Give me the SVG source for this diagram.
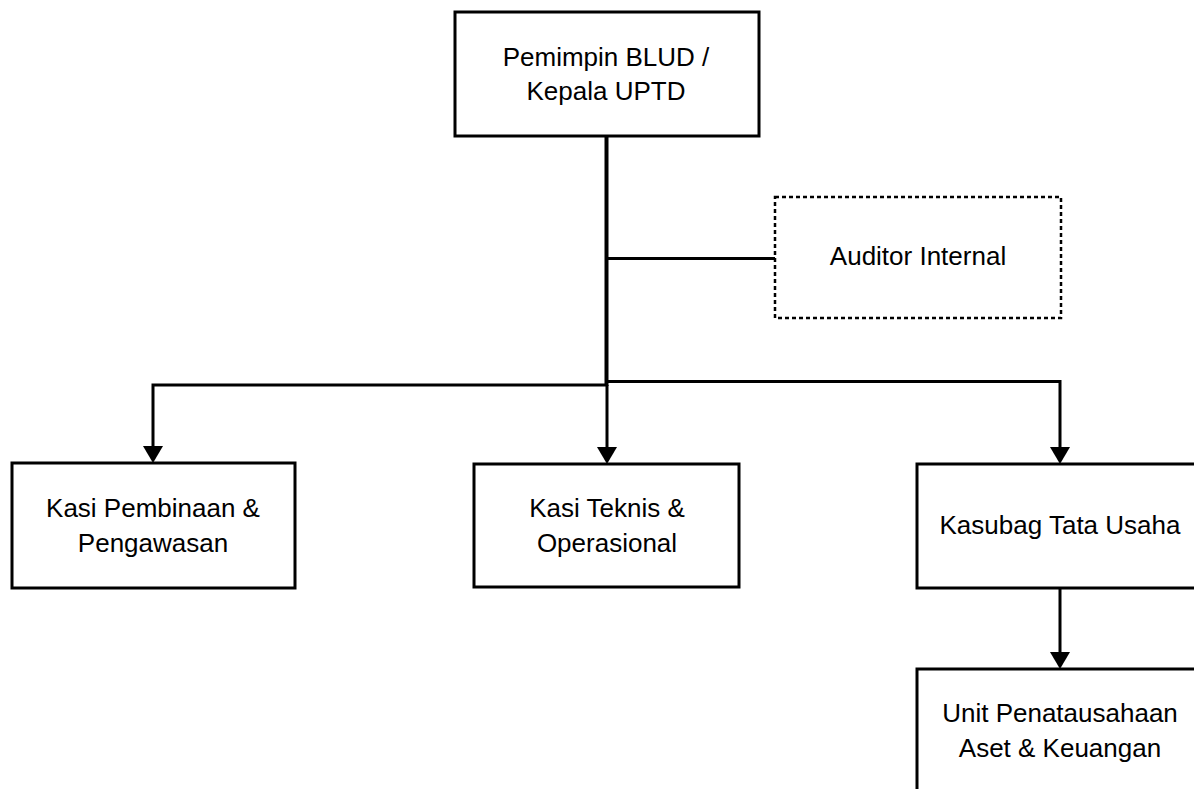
<svg xmlns="http://www.w3.org/2000/svg" width="1194" height="789" viewBox="0 0 1194 789">
  <style>
    .box { fill: #ffffff; stroke: #000000; stroke-width: 3; }
    .dashed { fill: #ffffff; stroke: #000000; stroke-width: 2.5; stroke-dasharray: 4 3; }
    .lbl { font-family: "Liberation Sans", Arial, sans-serif; font-size: 26px; fill: #000000; text-anchor: middle; }
    .conn { fill: none; stroke: #000000; stroke-width: 3; }
    .trunk { fill: none; stroke: #000000; stroke-width: 4; }
  </style>
  <defs>
    <marker id="arrow" markerUnits="userSpaceOnUse" markerWidth="18" markerHeight="20" refX="0" refY="10" orient="auto" viewBox="0 0 18 20">
      <path d="M0,0 L17,10 L0,20 Z" fill="#000000"/>
    </marker>
  </defs>
  <rect width="1194" height="789" fill="#ffffff"/>

  <g id="connectors">
    <path class="trunk" d="M606.5 136 V386"/>
    <path class="conn" d="M606 258.5 H775"/>
    <path class="conn" d="M607 385 H153 V446" marker-end="url(#arrow)"/>
    <path class="conn" d="M606 381.5 H1060 V447" marker-end="url(#arrow)"/>
    <path class="conn" d="M607 385 V447" marker-end="url(#arrow)"/>
    <path class="conn" d="M1060 588 V652" marker-end="url(#arrow)"/>
  </g>

  <g id="pemimpin">
    <rect class="box" x="455" y="12" width="304" height="124"/>
    <text class="lbl" x="606" y="65.5">Pemimpin BLUD /</text>
    <text class="lbl" x="606" y="100">Kepala UPTD</text>
  </g>

  <g id="auditor">
    <rect class="dashed" x="775" y="197" width="286" height="121"/>
    <text class="lbl" x="918" y="265">Auditor Internal</text>
  </g>

  <g id="kasi-pembinaan">
    <rect class="box" x="12" y="463" width="283" height="125"/>
    <text class="lbl" x="153" y="517">Kasi Pembinaan &amp;</text>
    <text class="lbl" x="153" y="552">Pengawasan</text>
  </g>

  <g id="kasi-teknis">
    <rect class="box" x="474" y="464" width="265" height="123"/>
    <text class="lbl" x="607" y="517">Kasi Teknis &amp;</text>
    <text class="lbl" x="607" y="552">Operasional</text>
  </g>

  <g id="kasubag">
    <rect class="box" x="917" y="464" width="290" height="124"/>
    <text class="lbl" x="1060" y="534">Kasubag Tata Usaha</text>
  </g>

  <g id="unit">
    <rect class="box" x="917" y="669" width="290" height="140"/>
    <text class="lbl" x="1060" y="722">Unit Penatausahaan</text>
    <text class="lbl" x="1060" y="757">Aset &amp; Keuangan</text>
  </g>
</svg>
